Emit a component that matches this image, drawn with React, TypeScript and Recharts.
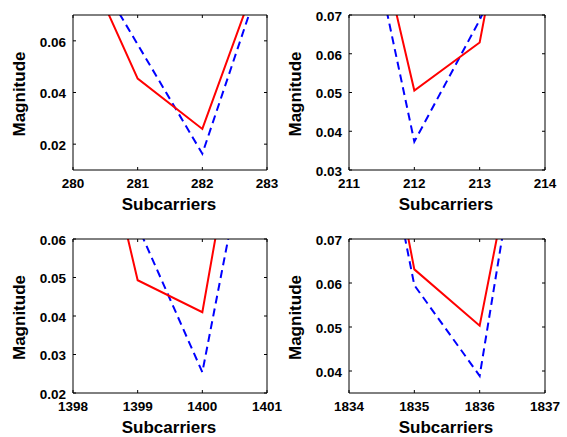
import React from 'react';
import { LineChart, Line, XAxis, YAxis } from 'recharts';

// panel 1 (top left)
const subcarriers1 = [280, 281, 282, 283];
const red1 = [0.1008, 0.0454, 0.0259, 0.0948];
const blue1 = [0.1008, 0.0586, 0.0163, 0.0909];
const yTicks1 = [0.02, 0.04, 0.06];

// panel 2 (top right)
const subcarriers2 = [211, 212, 213, 214];
const red2 = [0.1227, 0.0505, 0.0629, 0.152];
const blue2 = [0.117, 0.0373, 0.0687, 0.105];
const yTicks2 = [0.03, 0.04, 0.05, 0.06, 0.07];

// panel 3 (bottom left)
const subcarriers3 = [1398, 1399, 1400, 1401];
const red3 = [0.1206, 0.0493, 0.041, 0.136];
const blue3 = [0.09, 0.0634, 0.0254, 0.112];
const yTicks3 = [0.02, 0.03, 0.04, 0.05, 0.06];

// panel 4 (bottom right)
const subcarriers4 = [1834, 1835, 1836, 1837];
const red4 = [0.14, 0.0631, 0.0503, 0.126];
const blue4 = [0.1345, 0.0595, 0.0389, 0.13];
const yTicks4 = [0.04, 0.05, 0.06, 0.07];

const FONT = '"Liberation Sans", Arial, Helvetica, sans-serif';
const tickStyle = { fill: '#000', fontSize: 13.5, fontWeight: 700, fontFamily: FONT };
const yTickStyle = { ...tickStyle, dy: 1 };
const noLabel = () => null;

type PanelProps = {
  left: number;
  top: number;
  width: number;
  height: number;
  margin: { top: number; right: number; bottom: number; left: number };
  xs: number[];
  red: number[];
  blue: number[];
  yDomain: [number, number];
  yTicks: number[];
};

const Y_AXIS_W = 60;
const X_AXIS_H = 40;
const MIRROR = 1; // size of the box-only axes on top and right

function Panel({ left, top, width, height, margin, xs, red, blue, yDomain, yTicks }: PanelProps) {
  const data = xs.map((x, i) => ({ x, red: red[i], blue: blue[i] }));
  const xDomain: [number, number] = [xs[0], xs[xs.length - 1]];
  const m = {
    top: margin.top - MIRROR,
    right: margin.right - MIRROR,
    bottom: margin.bottom,
    left: margin.left,
  };
  const plotLeft = margin.left + Y_AXIS_W;
  const plotRight = width - margin.right;
  const plotTop = margin.top;
  const plotBottom = height - margin.bottom - X_AXIS_H;

  const xTitle = () => (
    <text
      x={(plotLeft + plotRight) / 2 - 1}
      y={plotBottom + 40}
      textAnchor="middle"
      fill="#000"
      fontSize={17}
      fontWeight={700}
      fontFamily={FONT}
    >
      Subcarriers
    </text>
  );
  const yx = plotLeft - 48;
  const yy = (plotTop + plotBottom) / 2 + 1.5;
  const yTitle = () => (
    <text
      x={yx}
      y={yy}
      transform={`rotate(-90 ${yx} ${yy})`}
      textAnchor="middle"
      fill="#000"
      fontSize={17}
      fontWeight={700}
      fontFamily={FONT}
    >
      Magnitude
    </text>
  );

  return (
    <div style={{ position: 'absolute', left, top }}>
      <LineChart width={width} height={height} data={data} margin={m}>
        <XAxis
          dataKey="x"
          type="number"
          domain={xDomain}
          ticks={xs}
          interval={0}
          allowDataOverflow
          height={X_AXIS_H}
          stroke="#000"
          tickSize={-3}
          tickMargin={11}
          tick={tickStyle}
          label={{ content: xTitle }}
        />
        <XAxis
          xAxisId="top"
          dataKey="x"
          orientation="top"
          type="number"
          domain={xDomain}
          ticks={xs}
          interval={0}
          allowDataOverflow
          height={MIRROR}
          stroke="#000"
          tickSize={-3}
          tick={noLabel}
        />
        <YAxis
          type="number"
          domain={yDomain}
          ticks={yTicks}
          interval={0}
          allowDataOverflow
          width={Y_AXIS_W}
          stroke="#000"
          tickSize={-3}
          tickMargin={10}
          tick={yTickStyle}
          tickFormatter={(v: number) => v.toFixed(2)}
          label={{ content: yTitle }}
        />
        <YAxis
          yAxisId="right"
          orientation="right"
          type="number"
          domain={yDomain}
          ticks={yTicks}
          interval={0}
          allowDataOverflow
          width={MIRROR}
          stroke="#000"
          tickSize={-3}
          tick={noLabel}
        />
        {/* invisible series so the mirrored box axes get drawn */}
        <Line
          xAxisId="top"
          yAxisId="right"
          type="linear"
          dataKey="red"
          stroke="none"
          dot={false}
          activeDot={false}
          legendType="none"
          isAnimationActive={false}
        />
        <Line
          type="linear"
          dataKey="blue"
          stroke="#0000ff"
          strokeWidth={2}
          strokeDasharray="8 5"
          dot={false}
          activeDot={false}
          isAnimationActive={false}
        />
        <Line
          type="linear"
          dataKey="red"
          stroke="#ff0000"
          strokeWidth={2}
          dot={false}
          activeDot={false}
          isAnimationActive={false}
        />
      </LineChart>
    </div>
  );
}

export default function App() {
  return (
    <div style={{ position: 'absolute', left: 0, top: 0, width: 567, height: 437, background: '#fff' }}>
      <Panel left={0} top={0} width={283} height={220}
        margin={{ top: 15, right: 16, bottom: 10, left: 13 }}
        xs={subcarriers1} red={red1} blue={blue1} yDomain={[0.01, 0.07]} yTicks={yTicks1} />
      <Panel left={283} top={0} width={284} height={220}
        margin={{ top: 15, right: 22, bottom: 10, left: 6 }}
        xs={subcarriers2} red={red2} blue={blue2} yDomain={[0.03, 0.07]} yTicks={yTicks2} />
      <Panel left={0} top={220} width={283} height={217}
        margin={{ top: 19, right: 16, bottom: 4, left: 13 }}
        xs={subcarriers3} red={red3} blue={blue3} yDomain={[0.02, 0.06]} yTicks={yTicks3} />
      <Panel left={283} top={220} width={284} height={217}
        margin={{ top: 19, right: 22, bottom: 4, left: 6 }}
        xs={subcarriers4} red={red4} blue={blue4} yDomain={[0.035, 0.07]} yTicks={yTicks4} />
    </div>
  );
}
